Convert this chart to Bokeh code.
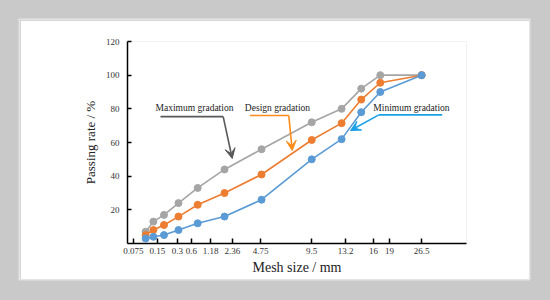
import numpy as np
from bokeh.plotting import figure
from bokeh.models import FixedTicker, Range1d, Label, Arrow, VeeHead
from bokeh.embed import file_html
from bokeh.resources import INLINE

# ---- data ----
mesh_sizes = [0.075, 0.15, 0.3, 0.6, 1.18, 2.36, 4.75, 9.5, 13.2, 16, 19, 26.5]
tick_labels = ["0.075", "0.15", "0.3", "0.6", "1.18", "2.36", "4.75", "9.5", "13.2", "16", "19", "26.5"]
max_grad = [7, 13, 17, 24, 33, 44, 56, 72, 80, 92, 100, 100]
design_grad = [5, 8, 11, 16, 23, 30, 41, 61.5, 71.5, 85.5, 95.5, 100]
min_grad = [3, 4, 5, 8, 12, 16, 26, 50, 62, 78, 90, 100]
y_ticks = [20, 40, 60, 80, 100, 120]

# where the source figure printed its (spread-out) tick labels, in axis units
label_pos = [0.133, 0.486, 0.780, 0.986, 1.266, 1.589, 2.001, 2.751, 3.251, 3.663, 3.898, 4.369]

POW = 0.45
xt = np.array(mesh_sizes) ** POW

SERIF = "Liberation Serif"
BG = "#c9c9c9"

p = figure(width=509, height=259, output_backend="svg", toolbar_location=None,
           x_range=Range1d(0.045, 5.03), y_range=Range1d(0, 120),
           min_border_left=107, min_border_right=63, min_border_top=21, min_border_bottom=36,
           background_fill_color="white", border_fill_color="white",
           outline_line_color=None, margin=(20, 0, 0, 20),
           styles={"box-shadow": "0 0 0 1.5px #e4e4e4"})
p.grid.visible = False

# axes
p.xaxis.ticker = FixedTicker(ticks=label_pos)
p.xaxis.major_label_overrides = {float(v): lab for v, lab in zip(label_pos, tick_labels)}
p.yaxis.ticker = FixedTicker(ticks=y_ticks)
for ax in (p.xaxis, p.yaxis):
    ax.axis_line_color = "black"
    ax.axis_line_width = 1.5
    ax.major_tick_line_color = "black"
    ax.major_tick_line_width = 1.5
    ax.minor_tick_line_color = None
    ax.major_tick_out = 0
    ax.major_label_text_font = SERIF
    ax.major_label_text_font_size = "9px"
    ax.major_label_text_color = "#333333"
    ax.axis_label_text_font = SERIF
    ax.axis_label_text_font_style = "normal"
    ax.axis_label_text_color = "#222222"
p.xaxis.major_tick_in = 5
p.yaxis.major_tick_in = 4
p.xaxis.major_label_standoff = 4
p.yaxis.major_label_standoff = 8
p.xaxis.axis_label = "Mesh size / mm"
p.yaxis.axis_label = "Passing rate / %"
p.xaxis.axis_label_text_font_size = "14px"
p.yaxis.axis_label_text_font_size = "13px"
p.xaxis.axis_label_standoff = 3
p.yaxis.axis_label_standoff = 5

series = [(max_grad, "#A5A5A5"), (design_grad, "#ED7D31"), (min_grad, "#5B9BD5")]
for vals, col in series:
    p.line(xt, vals, line_color=col, line_width=1.6)
    p.scatter(xt, vals, size=7, fill_color=col, line_color=col)

# annotations
def callout(text, tx, ty, pts, color):
    p.add_layout(Label(x=tx, y=ty, text=text, text_font=SERIF, text_font_size="9.5px",
                       text_color="#222222", text_align="center", text_baseline="middle"))
    (x0, y0), (x1, y1), (x2, y2) = pts
    p.line([x0, x1], [y0, y1], line_color=color, line_width=1.6)
    p.add_layout(Arrow(x_start=x1, y_start=y1, x_end=x2, y_end=y2, line_color=color, line_width=1.6,
                       end=VeeHead(size=10, line_color=color, fill_color=color, line_width=1)))

callout("Maximum gradation", 1.03, 80.4, [(0.53, 75.4), (1.452, 75.4), (1.585, 50.5)], "#595959")
callout("Design gradation", 2.25, 80.4, [(1.844, 76.0), (2.417, 76.0), (2.467, 55.2)], "#FF8C1A")
callout("Minimum gradation", 4.221, 80.4, [(4.673, 76.4), (3.741, 76.4), (3.324, 67.1)], "#1AA0E6")

html = file_html(p, INLINE)
html = html.replace("</head>", "<style>html, body { background-color: %s; }</style></head>" % BG, 1)
open("out.html", "w").write(html)
